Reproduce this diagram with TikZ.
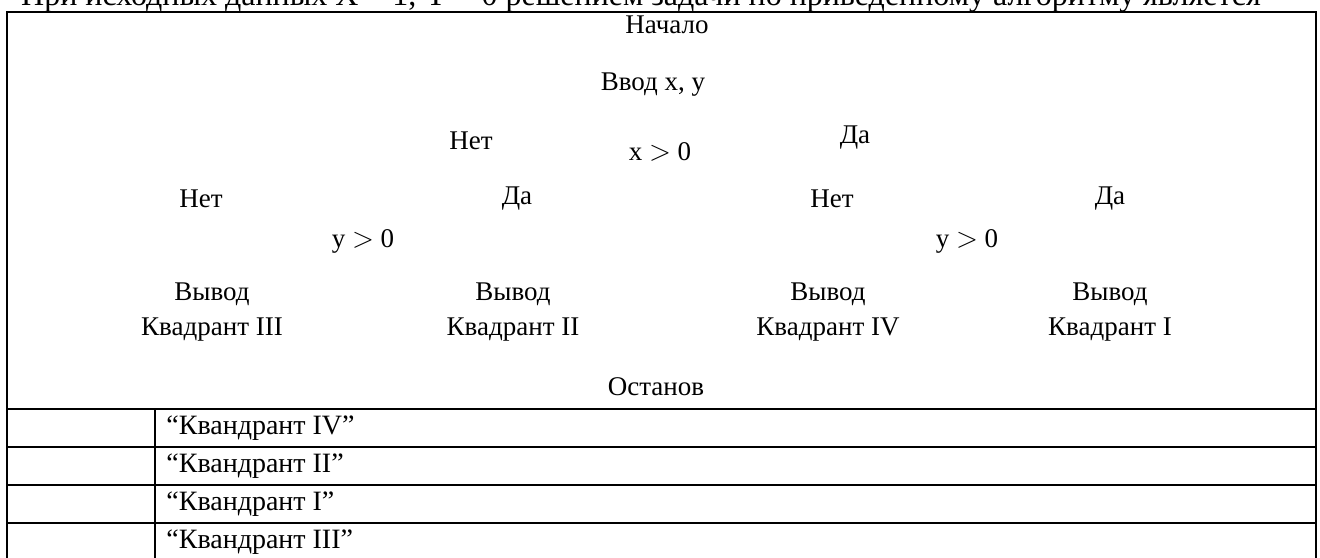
\documentclass[tikz,border=0pt]{standalone}
\usepackage{fontspec}
\setmainfont{Liberation Serif}
\usetikzlibrary{positioning}

\tikzset{
  grid line/.style={line width=1.1pt},
  block text/.style={font=\fontsize{13.5}{17.5}\selectfont, inner sep=0pt, align=center},
  answer text/.style={font=\fontsize{14}{17}\selectfont, inner sep=0pt, anchor=west},
}

\begin{document}
\begin{tikzpicture}[x=0.5pt, y=-0.5pt]
  \useasboundingbox (0,0) rectangle (1320,557);
  \clip (0,0) rectangle (1320,557);
  % question line, cut off at the top
  \node[font=\fontsize{16}{19}\selectfont, inner sep=0pt, anchor=base] (question) at (641,5)
    {При исходных данных X = 1, Y = 0 решением задачи по приведенному алгоритму является};
  % table frame
  \draw[grid line] (7,580) -- (7,12) -- (1316,12) -- (1316,580);
  \foreach \y in {409,447,485,523}
    \draw[grid line] (7,\y) -- (1316,\y);
  \draw[grid line] (155,409) -- (155,580);
  % algorithm texts
  \node[block text] (start) at (667,25) {Начало};
  \node[block text] (input) at (653,85) {Ввод x, y};
  \node[block text] (xtest) at (660,152) {x $>$ 0};
  \node[block text] (xno) at (471,141) {Нет};
  \node[block text] (xyes) at (855,138) {Да};
  \node[block text] (ytestL) at (363,241) {y $>$ 0};
  \node[block text] (ytestR) at (967,241) {y $>$ 0};
  \node[block text] (ynoL) at (201,199) {Нет};
  \node[block text] (yyesL) at (517,199) {Да};
  \node[block text] (ynoR) at (832,199) {Нет};
  \node[block text] (yyesR) at (1110,199) {Да};
  \node[block text] (outIII) at (212,312) {Вывод\\Квадрант III};
  \node[block text] (outII) at (513,312) {Вывод\\Квадрант II};
  \node[block text] (outIV) at (828,312) {Вывод\\Квадрант IV};
  \node[block text] (outI) at (1110,312) {Вывод\\Квадрант I};
  \node[block text] (stop) at (656,387) {Останов};
  % answer options
  \node[answer text] (ans1) at (166,428) {“Квандрант IV”};
  \node[answer text] (ans2) at (166,466) {“Квандрант II”};
  \node[answer text] (ans3) at (166,504) {“Квандрант I”};
  \node[answer text] (ans4) at (166,542) {“Квандрант III”};
\end{tikzpicture}
\end{document}
